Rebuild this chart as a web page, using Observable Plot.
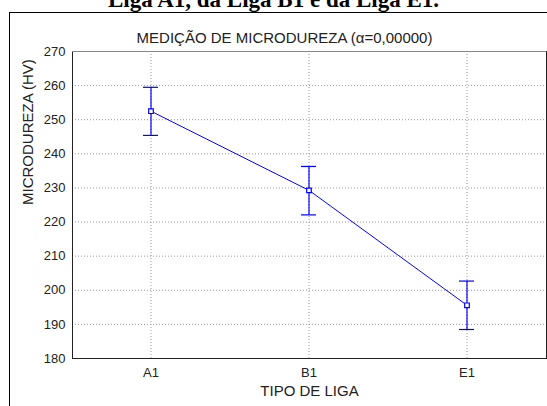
<!DOCTYPE html>
<html>
<head>
<meta charset="utf-8">
<script src="https://cdn.jsdelivr.net/npm/d3@7"></script>
<script src="https://cdn.jsdelivr.net/npm/@observablehq/plot@0.6"></script>
<style>
  html, body { margin: 0; padding: 0; background: #fff; }
  body { width: 547px; height: 406px; overflow: hidden; position: relative; }
  #frame { position: absolute; left: 9px; top: 12px; width: 700px; height: 600px; border: 1px solid #000; box-sizing: border-box; }
  #title { position: absolute; left: 0; width: 547px; top: -12px; line-height: 23px; text-align: center;
           font-family: "Liberation Serif", "Times New Roman", serif; font-weight: bold; font-size: 23px; color: #000; white-space: nowrap; }
  #chart { position: absolute; left: 0; top: 0; }
</style>
</head>
<body>
<div id="frame"></div>
<div id="title">Liga A1, da Liga B1 e da Liga E1.</div>
<div id="chart"></div>
<script>
const categories = ["A1", "B1", "E1"];
const means = [252.5, 229.3, 195.6];
const lowerCI = [245.4, 222.1, 188.5];
const upperCI = [259.5, 236.3, 202.7];
const yTicks = [180, 190, 200, 210, 220, 230, 240, 250, 260, 270];
const subtitle = "MEDIÇÃO DE MICRODUREZA (α=0,00000)";
const yLabel = "MICRODUREZA (HV)";
const xLabel = "TIPO DE LIGA";

const data = categories.map((c, i) => ({cat: c, mean: means[i], lo: lowerCI[i], hi: upperCI[i]}));
const blue = "#0000ff";

const chart = Plot.plot({
  width: 547,
  height: 406,
  marginLeft: 72,
  marginRight: 1,
  marginTop: 51,
  marginBottom: 48,
  style: {fontFamily: "'Liberation Sans', Arial, sans-serif", fontSize: "13px", color: "#222", background: "transparent", overflow: "visible"},
  x: {type: "band", domain: categories, paddingInner: 0.905, paddingOuter: 0.4525},
  y: {domain: [180, 270]},
  marks: [
    Plot.gridY(yTicks.slice(1, -1), {stroke: "#999", strokeOpacity: 1, strokeDasharray: "1,2"}),
    Plot.gridX(categories, {stroke: "#999", strokeOpacity: 1, strokeDasharray: "1,2"}),
    Plot.frame({stroke: "#222"}),
    Plot.ruleY([270], {stroke: "#888"}),
    Plot.ruleY(yTicks, {x1: () => null, insetLeft: 471, stroke: "#333"}),
    Plot.axisY(yTicks, {tickSize: 0, tickPadding: 7, label: null, fontSize: 13}),
    Plot.axisX(categories, {tickSize: 0, tickPadding: 9, label: null, fontSize: 13}),
    Plot.text([yLabel], {frameAnchor: "left", rotate: -90, dx: -44, fontSize: 15, fill: "#222"}),
    Plot.text([xLabel], {frameAnchor: "bottom", dy: 37, fontSize: 15, fill: "#222"}),
    Plot.text([subtitle], {frameAnchor: "top", dx: -25, dy: -19, fontSize: 15, fill: "#222"}),
    Plot.ruleX(data, {x: "cat", y1: "lo", y2: "hi", stroke: blue, strokeWidth: 1.2}),
    Plot.tickY(data, {x: "cat", y: "lo", stroke: blue, strokeWidth: 1.2}),
    Plot.tickY(data, {x: "cat", y: "hi", stroke: blue, strokeWidth: 1.2}),
    Plot.line(data, {x: "cat", y: "mean", stroke: blue, strokeWidth: 1}),
    Plot.dot(data, {x: "cat", y: "mean", symbol: "square", r: 2.6, fill: "white", stroke: blue, strokeWidth: 1.2})
  ]
});
document.getElementById("chart").appendChild(chart);
</script>
</body>
</html>
